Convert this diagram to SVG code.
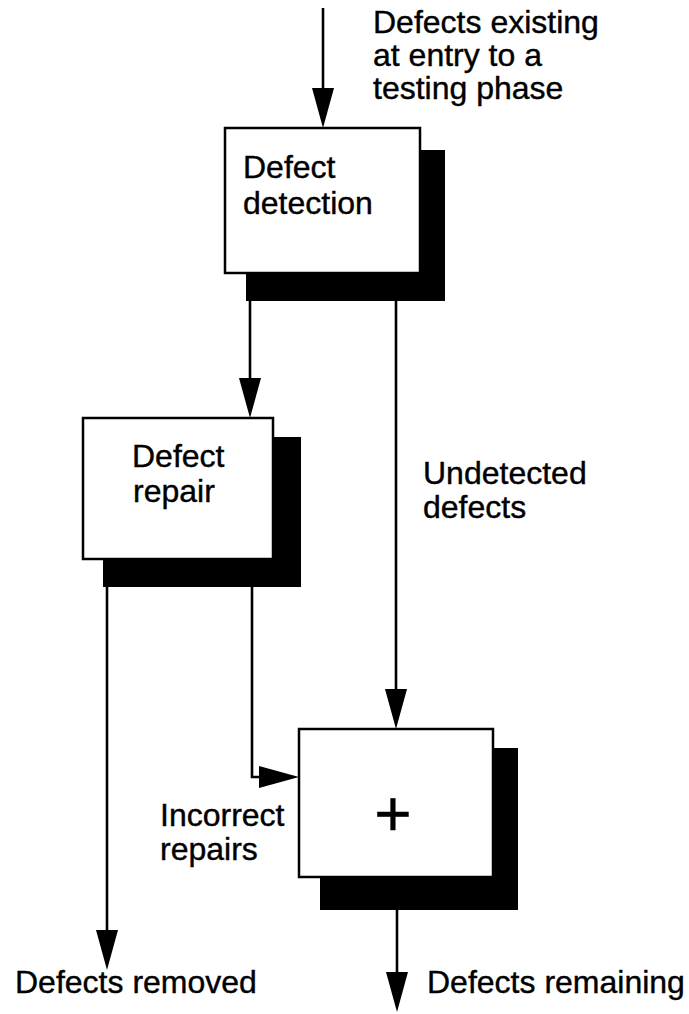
<svg xmlns="http://www.w3.org/2000/svg" width="689" height="1014" viewBox="0 0 689 1014">
  <style>
    .box { fill: #ffffff; stroke: #000000; stroke-width: 2.5; }
    .shadow { fill: #000000; }
    .lbl { font-family: "Liberation Sans", Arial, Helvetica, sans-serif; font-size: 32px; fill: #000000; stroke: #000000; stroke-width: 0.4; }
    .wire { fill: none; stroke: #000000; stroke-width: 2.6; marker-end: url(#head); }
  </style>
  <defs>
    <marker id="head" markerUnits="userSpaceOnUse" markerWidth="40" markerHeight="22" refX="0" refY="11" orient="auto">
      <path d="M0,0 L40,11 L0,22 Z" fill="#000000"/>
    </marker>
  </defs>

  <rect width="689" height="1014" fill="#ffffff"/>

  <!-- flow lines -->
  <g id="connectors">
    <path class="wire" d="M323,8 V88"/>
    <path class="wire" d="M250,301 V378"/>
    <path class="wire" d="M396,301 V689"/>
    <path class="wire" d="M252,587 V777 H259"/>
    <path class="wire" d="M107,587 V930"/>
    <path class="wire" d="M397,910 V972"/>
  </g>

  <g id="detection">
    <rect class="shadow" x="246" y="150" width="199" height="151"/>
    <rect class="box" x="225" y="128" width="195" height="145"/>
    <text class="lbl" x="243" y="178">Defect</text>
    <text class="lbl" x="243" y="214">detection</text>
  </g>

  <g id="repair">
    <rect class="shadow" x="103" y="437" width="198" height="150"/>
    <rect class="box" x="83" y="418" width="190" height="141"/>
    <text class="lbl" x="132" y="467">Defect</text>
    <text class="lbl" x="133" y="502">repair</text>
  </g>

  <g id="sum">
    <rect class="shadow" x="320" y="748" width="198" height="162"/>
    <rect class="box" x="299" y="729" width="194" height="148"/>
    <text class="lbl" x="393" y="836" text-anchor="middle" style="font-size:64px">+</text>
  </g>

  <g id="labels">
    <text class="lbl" x="373" y="33">Defects existing</text>
    <text class="lbl" x="373" y="66">at entry to a</text>
    <text class="lbl" x="373" y="99">testing phase</text>
    <text class="lbl" x="423" y="484">Undetected</text>
    <text class="lbl" x="423" y="518">defects</text>
    <text class="lbl" x="160" y="826">Incorrect</text>
    <text class="lbl" x="160" y="860">repairs</text>
    <text class="lbl" x="15" y="993">Defects removed</text>
    <text class="lbl" x="427" y="993">Defects remaining</text>
  </g>
</svg>
